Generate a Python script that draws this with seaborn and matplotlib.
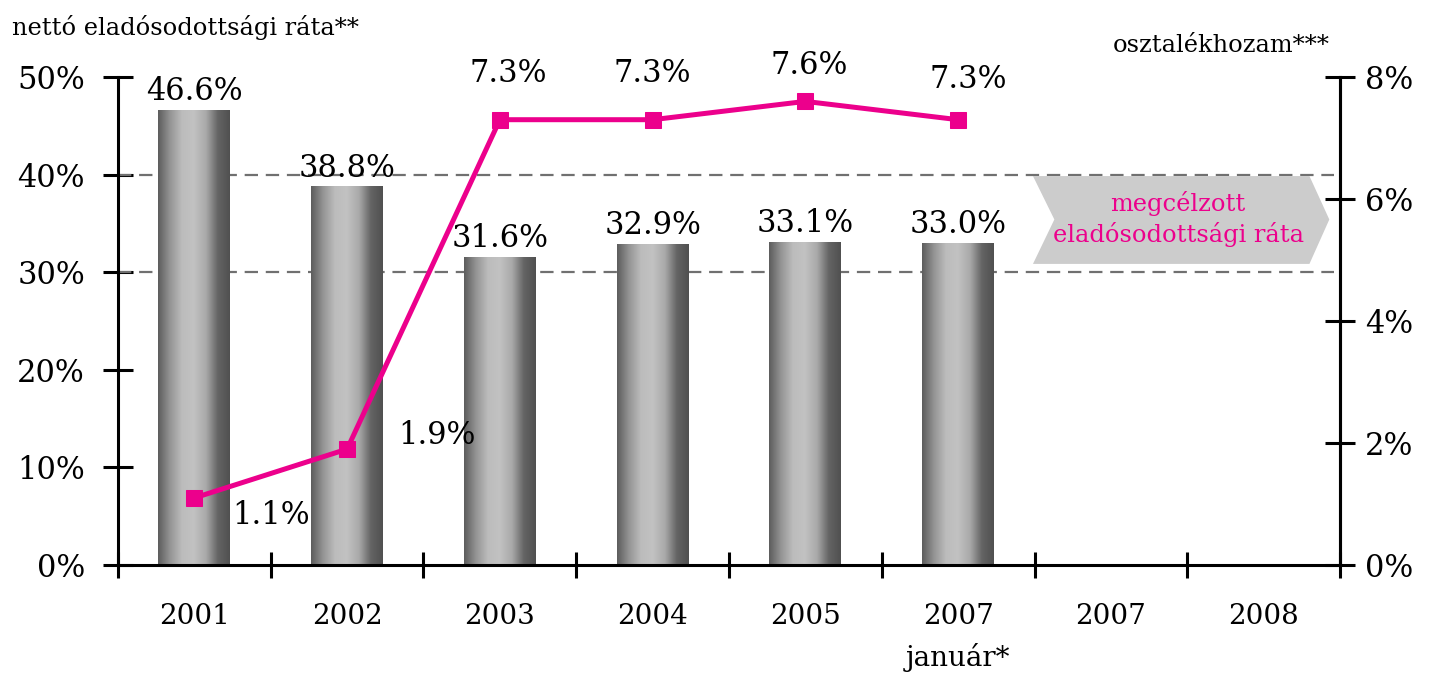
import numpy as np
import pandas as pd
import matplotlib
matplotlib.use("Agg")
import matplotlib.pyplot as plt
import seaborn as sns
from matplotlib.colors import LinearSegmentedColormap
from matplotlib.patches import Polygon

# ---- data ----
categories = ["2001", "2002", "2003", "2004", "2005", "2007\njanuár*", "2007", "2008"]
debt_ratio = [46.6, 38.8, 31.6, 32.9, 33.1, 33.0]          # left axis, %
dividend_yield = [1.1, 1.9, 7.3, 7.3, 7.6, 7.3]             # right axis, %
left_ticks = [0, 10, 20, 30, 40, 50]
right_ticks = [0, 2, 4, 6, 8]
target_band = [30, 40]
left_title = "nettó eladósodottsági ráta**"
right_title = "osztalékhozam***"
target_text = "megcélzott\neladósodottsági ráta"

# ---- style ----
sns.set_style("white")
plt.rcParams["font.family"] = ["DejaVu Serif", "DejaVu Sans"]
plt.rcParams["text.color"] = "black"
plt.rcParams["xtick.color"] = "black"
plt.rcParams["ytick.color"] = "black"
plt.rcParams["axes.labelcolor"] = "black"
MAGENTA = "#EC008C"
FS = 22

fig = plt.figure(figsize=(14.3, 6.8), dpi=100)
ax = fig.add_axes([118 / 1430, 1 - 565 / 680, (1340 - 118) / 1430, (565 - 77) / 680])

df = pd.DataFrame({"cat": categories[:len(debt_ratio)], "val": debt_ratio})
sns.barplot(data=df, x="cat", y="val", order=categories, ax=ax, width=0.47,
            color="#999999", saturation=1, errorbar=None)

ax.set_xlim(-0.5, len(categories) - 0.5)
ax.set_ylim(0, 50)

# gradient fill of bars (cylinder look)
cmap = LinearSegmentedColormap.from_list(
    "cyl", ["#5c5c5c", "#949494", "#bcbcbc", "#c2c2c2", "#aaaaaa", "#646464", "#505050"])
grad = np.linspace(0, 1, 256).reshape(1, -1)
for p in list(ax.patches):
    x0, y0 = p.get_x(), p.get_y()
    w, h = p.get_width(), p.get_height()
    if not np.isfinite(h) or h == 0:
        continue
    im = ax.imshow(grad, cmap=cmap, aspect="auto", extent=[x0, x0 + w, y0, y0 + h],
                   zorder=2, interpolation="bicubic")
    im.set_clip_path(p)
    p.set_facecolor("none")
    p.set_edgecolor("none")
ax.set_xlim(-0.5, len(categories) - 0.5)
ax.set_ylim(0, 50)

# bar labels
for i, v in enumerate(debt_ratio):
    ax.annotate(f"{v:.1f}%", (i, v), xytext=(0, 2), textcoords="offset points",
                ha="center", va="bottom", fontsize=FS, zorder=5)

# target dashed lines
for yv in target_band:
    ax.axhline(yv, color="#707070", lw=1.6, dashes=(6, 3.5), zorder=1, xmax=0.995)

# target arrow shape
arrow_pts = [(5.49, 39.85), (7.30, 39.85), (7.43, 35.4), (7.30, 30.85),
             (5.49, 30.85), (5.63, 35.4)]
ax.add_patch(Polygon(arrow_pts, closed=True, facecolor="#cccccc", edgecolor="none", zorder=1))
ax.text(6.44, 35.5, target_text, ha="center", va="center", color=MAGENTA,
        fontsize=17.4, linespacing=1.3, zorder=3)

# axes styling
ax.set_xlabel("")
ax.set_ylabel("")
for s in ["left", "bottom", "right"]:
    ax.spines[s].set_visible(True)
    ax.spines[s].set_linewidth(2.2)
    ax.spines[s].set_color("black")
ax.spines["top"].set_visible(False)

ax.set_yticks(left_ticks)
ax.set_yticklabels([f"{t}%" for t in left_ticks], fontsize=FS)
ax.tick_params(axis="y", which="major", direction="inout", length=21.6, width=2.2, pad=13,
               left=True, right=False)

ax.set_xticks(np.arange(-0.5, len(categories), 1.0))
ax.set_xticklabels([])
ax.set_xticks(np.arange(len(categories)), minor=True)
ax.set_xticklabels(categories, minor=True, fontsize=20, linespacing=1.6)
ax.tick_params(axis="x", which="major", direction="inout", length=19, width=2.2, bottom=True)
ax.tick_params(axis="x", which="minor", length=0, pad=27)

# right axis: dividend yield
ax2 = ax.twinx()
sns.lineplot(x=np.arange(len(dividend_yield)), y=dividend_yield, ax=ax2, color=MAGENTA,
             lw=3.6, marker="s", markersize=11.5, markeredgecolor=MAGENTA, zorder=6)
ax2.set_ylim(0, 8)
ax2.set_xlim(-0.5, len(categories) - 0.5)
ax2.set_yticks(right_ticks)
ax2.set_yticklabels([f"{t}%" for t in right_ticks], fontsize=FS)
ax2.tick_params(axis="y", direction="inout", length=21.6, width=2.2, pad=7)
ax2.set_ylabel("")
for s in ["left", "bottom", "top"]:
    ax2.spines[s].set_visible(False)
ax2.spines["right"].set_linewidth(2.2)
ax2.spines["right"].set_color("black")

label_offsets = [(55, -13), (65, 10), (6, 33), (0, 33), (3, 26), (7, 29)]
for i, (v, off) in enumerate(zip(dividend_yield, label_offsets)):
    ax2.annotate(f"{v:.1f}%", (i, v), xytext=off, textcoords="offset points",
                 ha="center", va="center", fontsize=FS)

fig.text(12 / 1430, 1 - 27 / 680, left_title, ha="left", va="center", fontsize=17.4)
fig.text(1330 / 1430, 1 - 45 / 680, right_title, ha="right", va="center", fontsize=17.4)

fig.savefig("out.png", dpi=100)
